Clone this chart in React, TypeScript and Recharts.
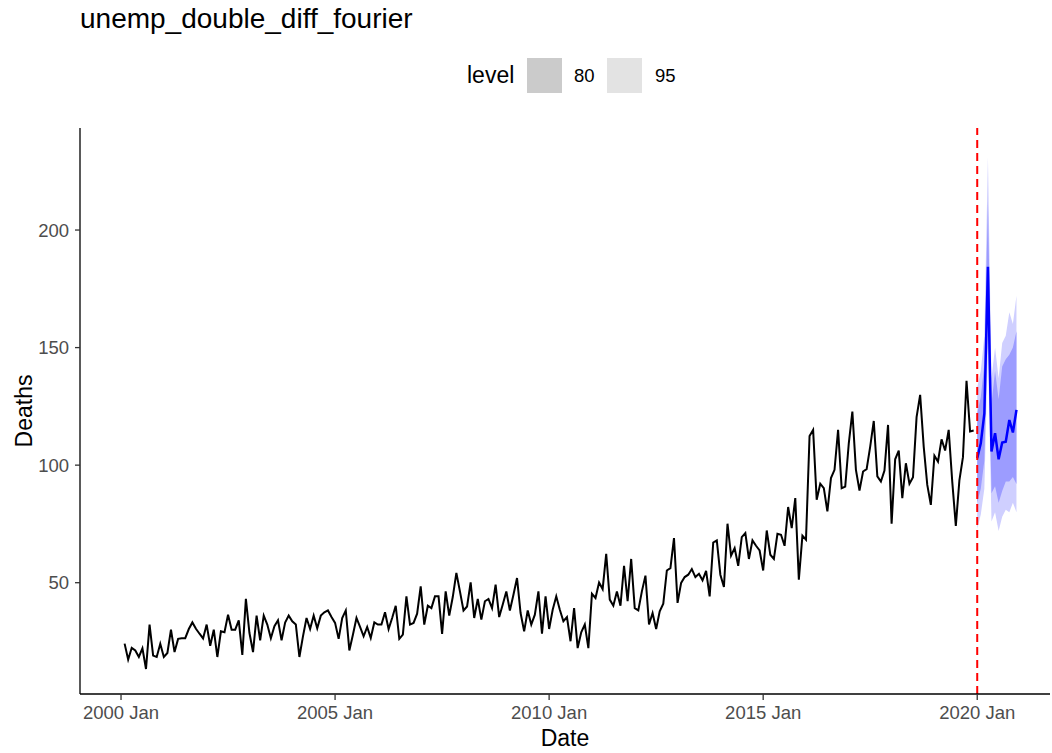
import {
  ComposedChart,
  Line,
  Area,
  XAxis,
  YAxis,
  ReferenceLine,
} from 'recharts';

// monthly deaths, starting 2000 Feb and ending 2019 Dec
const deaths = [
  24.1, 17.3, 22.3, 21.2, 18.4, 22.1, 13.3, 32.2, 19, 18.4, 24,
  18.4, 20.1, 30, 20.5, 26.1, 26.4, 26.4, 30.3, 33.1, 30.4, 28.3, 26.3,
  32.2, 23.2, 30, 18.4, 29.3, 28.9, 36.4, 30, 30, 34, 19.3, 43.1,
  28.6, 20.5, 36, 25.5, 36, 32.2, 26.4, 31.5, 34, 25.5, 33, 36,
  33.6, 32.2, 18.4, 27.2, 35, 30.3, 36, 30.6, 36, 37.4, 38.2, 35.4,
  32.9, 26.1, 35, 38.2, 21.2, 27.9, 35, 31.2, 27.2, 31.2, 26.5, 33.1,
  32.2, 32.2, 37.4, 30.3, 35, 40.2, 26.1, 27.9, 44.2, 32.2, 32.9, 36.8,
  48.4, 32.2, 40.2, 39.2, 44.2, 44.2, 28.2, 46.3, 36, 44, 54.2, 46.3,
  38.2, 39.9, 50.1, 35, 43.1, 34.3, 42.1, 43.1, 39.2, 49.2, 35.4, 40.7,
  46.3, 38.2, 44.9, 52, 37.1, 29.3, 38.2, 32.2, 36.4, 46.3, 28.3, 44.2,
  30.3, 38.5, 44.2, 38.5, 33.6, 35.4, 25.1, 39.2, 22.2, 28.9, 32.2, 22.2,
  45.3, 43.5, 50.1, 47.3, 62.3, 42.8, 40.2, 46.3, 40.2, 57.2, 42.1, 60.1,
  39.2, 38.2, 46.3, 53, 32.2, 37.1, 30.3, 37.8, 41.1, 55.2, 56.2, 69,
  41.4, 49.9, 52.4, 53.4, 55.8, 52.4, 53.8, 51, 55, 44.2, 67.1, 68,
  53.4, 48.2, 75.1, 61.5, 64.7, 57.2, 69.4, 71.1, 60.1, 68, 65.7, 63.7,
  55.2, 72.2, 61.9, 60.1, 70.8, 70.4, 65.7, 82.2, 73.2, 86, 51.3, 70,
  68.3, 112.4, 115, 85.3, 92.1, 90.2, 80.3, 94.5, 98, 115, 90.2, 90.9,
  109.3, 122.8, 98, 89.2, 97.3, 98.3, 107.9, 118.8, 95.2, 93, 97.7, 117.1,
  75.1, 102.5, 106.2, 86, 100.8, 92.1, 94.9, 120.4, 129.9, 107.9, 91.6, 83.1,
  104, 101.5, 111, 106.2, 115, 93, 74.2, 93.5, 103.4, 135.9, 114.3, 114.7,
];

// forecast 2020 Jan .. 2020 Dec
const fcMean = [103, 109.3, 122, 184.4, 105.8, 113.6, 102.5, 109.6, 110, 119.2, 113.9, 123.5];
const lo80 = [84, 90, 102, 162, 88, 91, 84, 89, 93, 93, 95, 92];
const hi80 = [122, 129, 143, 212, 126, 140, 128, 142, 145, 147, 150, 157];
const lo95 = [73, 79, 90, 150, 76, 80, 72, 78, 81, 80, 84, 80];
const hi95 = [133, 140, 155, 231, 137, 150, 137, 152, 155, 165, 160, 172];

const yTicks = [50, 100, 150, 200];
const xTicks = [0, 60, 120, 180, 240]; // months since 2000 Jan

const data = [
  ...deaths.map((v, i) => ({ t: i + 1, deaths: v })),
  ...fcMean.map((v, i) => ({
    t: 240 + i,
    mean: v,
    band80: [lo80[i], hi80[i]],
    band95: [lo95[i], hi95[i]],
  })),
];

const font = '"Liberation Sans", Arial, Helvetica, sans-serif';

function fmtMonth(t: number) {
  return `${2000 + Math.floor(t / 12)} Jan`;
}

export default function App() {
  return (
    <div
      style={{
        position: 'absolute',
        left: 0,
        top: 0,
        width: 1052,
        height: 753,
        background: '#fff',
        fontFamily: font,
      }}
    >
      <div style={{ position: 'absolute', left: 80, top: 3, fontSize: 28, color: '#000', whiteSpace: 'nowrap' }}>
        unemp_double_diff_fourier
      </div>

      {/* legend */}
      <div style={{ position: 'absolute', left: 467, top: 58, height: 35, display: 'flex', alignItems: 'center', fontSize: 23 }}>
        level
      </div>
      <div style={{ position: 'absolute', left: 527, top: 58, width: 35, height: 35, background: '#cbcbcb' }} />
      <div style={{ position: 'absolute', left: 574, top: 58, height: 35, display: 'flex', alignItems: 'center', fontSize: 18.5 }}>
        80
      </div>
      <div style={{ position: 'absolute', left: 607, top: 58, width: 35, height: 35, background: '#e3e3e3' }} />
      <div style={{ position: 'absolute', left: 655, top: 58, height: 35, display: 'flex', alignItems: 'center', fontSize: 18.5 }}>
        95
      </div>

      <div
        style={{
          position: 'absolute',
          left: 24,
          top: 411,
          fontSize: 23,
          transform: 'translate(-50%, -50%) rotate(-90deg)',
          whiteSpace: 'nowrap',
        }}
      >
        Deaths
      </div>

      <ComposedChart
        width={1052}
        height={753}
        data={data}
        margin={{ top: 128, right: 2, bottom: 0, left: 0 }}
      >
        <XAxis
          dataKey="t"
          type="number"
          domain={[-11.5, 260.4]}
          ticks={xTicks}
          tickFormatter={fmtMonth}
          allowDataOverflow
          height={59}
          stroke="#000"
          strokeWidth={1.3}
          tickSize={6}
          tickMargin={6}
          tick={{ fill: '#4d4d4d', fontSize: 18.5 }}
          tickLine={{ stroke: '#333', strokeWidth: 1.3 }}
          label={{ value: 'Date', position: 'insideBottom', offset: 7, fill: '#000', fontSize: 23 }}
        />
        <YAxis
          type="number"
          domain={[2.66, 243.4]}
          ticks={yTicks}
          allowDataOverflow
          width={80}
          stroke="#000"
          strokeWidth={1.3}
          tickSize={5}
          tickMargin={6}
          tick={{ fill: '#4d4d4d', fontSize: 18.5 }}
          tickLine={{ stroke: '#333', strokeWidth: 1.3 }}
        />
        <Area
          dataKey="band95"
          type="linear"
          stroke="none"
          fill="#cfcfff"
          fillOpacity={1}
          isAnimationActive={false}
        />
        <Area
          dataKey="band80"
          type="linear"
          stroke="none"
          fill="#9c9cff"
          fillOpacity={1}
          isAnimationActive={false}
        />
        <Line
          dataKey="deaths"
          type="linear"
          stroke="#000"
          strokeWidth={2}
          dot={false}
          isAnimationActive={false}
        />
        <Line
          dataKey="mean"
          type="linear"
          stroke="#0000ff"
          strokeWidth={2.5}
          dot={false}
          isAnimationActive={false}
        />
        <ReferenceLine x={240} stroke="#ff0000" strokeWidth={2} strokeDasharray="8 5" />
      </ComposedChart>
    </div>
  );
}
